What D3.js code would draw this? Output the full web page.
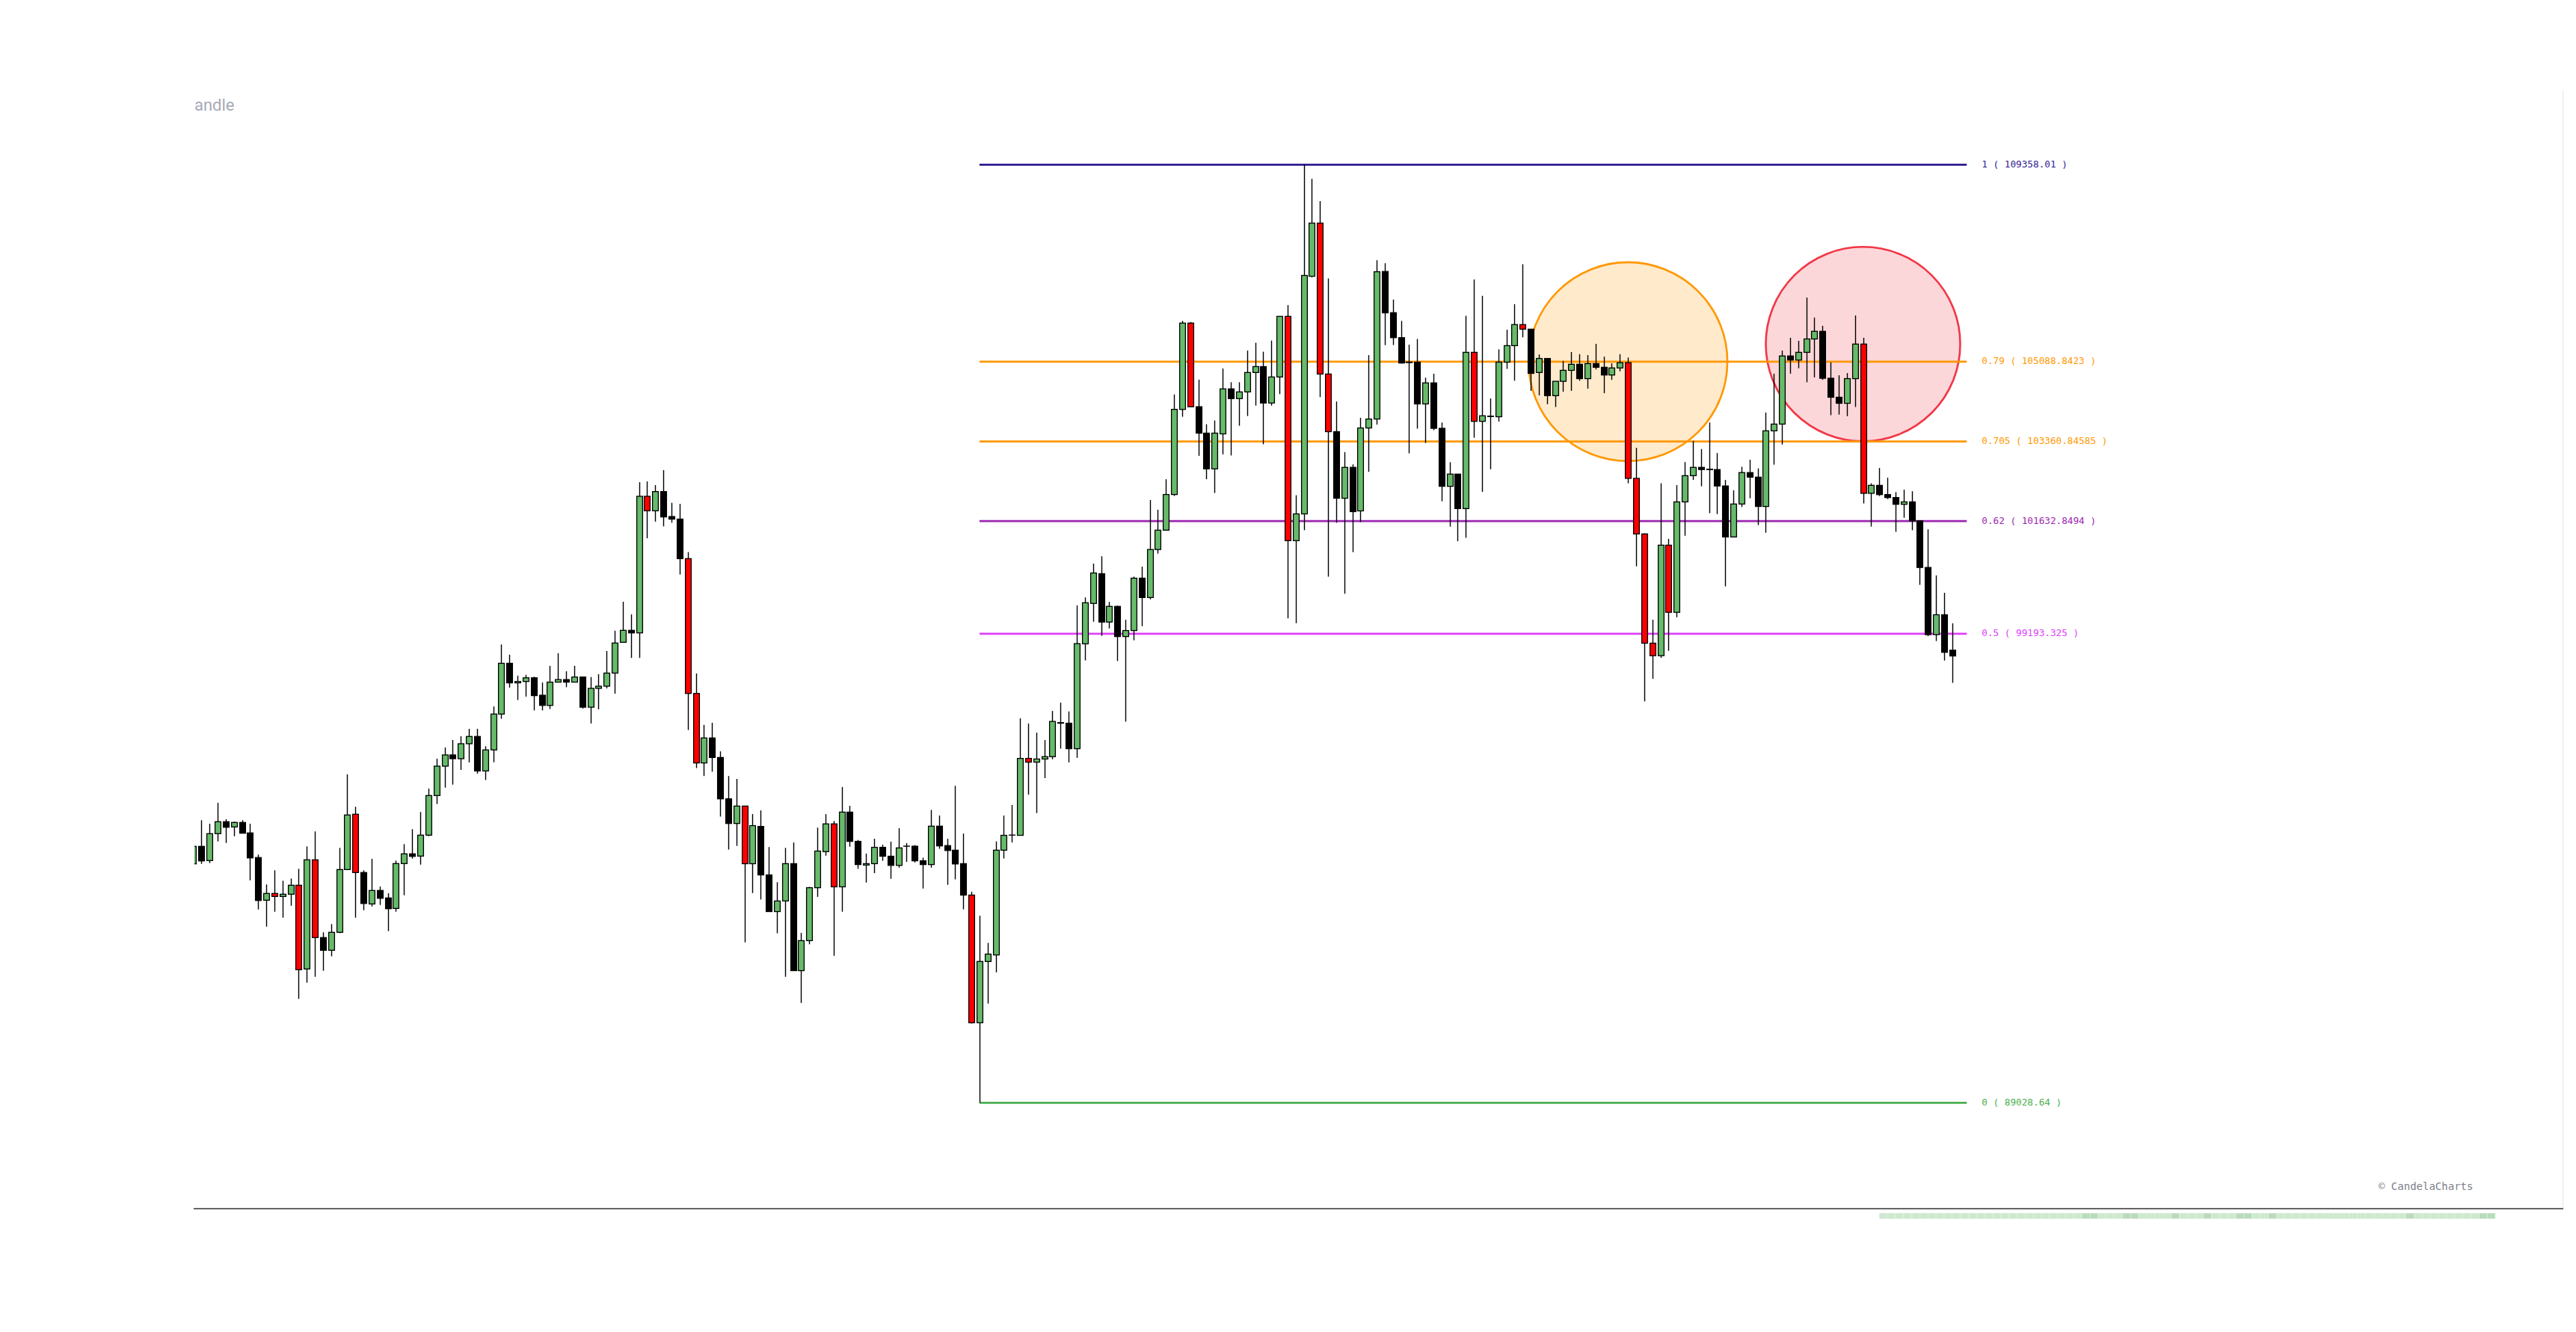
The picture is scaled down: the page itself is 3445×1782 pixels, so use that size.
<!DOCTYPE html>
<html><head><meta charset="utf-8">
<script src="https://cdn.jsdelivr.net/npm/d3@7"></script>
<style>html,body{margin:0;padding:0;background:#fff;} svg{display:block;}</style>
</head><body>
<svg id="chart" width="3445" height="1782"></svg>
<script>
// ---- DATA (4H candles, price in USD) ----
const open = [94206,94585,94277,94860,95119,95006,95103,94876,94342,93418,93564,93499,93548,93742,91928,94293,92608,92333,92722,94082,95281,94018,93337,93629,93467,93240,94212,94423,94374,94828,95686,96323,96566,96485,96809,96966,96219,96675,97452,98552,98128,98158,98238,97860,97640,98144,98199,98144,98254,97601,98009,98056,98340,99007,99266,99211,102171,101857,102273,101732,101677,100820,97899,96393,96934,96511,95615,95081,95458,94209,95017,93966,93172,93402,94210,91892,92542,93689,94470,95072,93708,95327,94693,94180,94210,94564,94371,94173,94588,94588,94272,94191,95022,94601,94502,94210,93529,90763,92090,92232,94502,94829,94824,96491,96410,96478,96529,97266,97254,96702,98975,99850,100494,99446,99785,99132,99262,100397,99978,101018,101437,102210,104055,105925,104112,103540,102766,103524,104499,104289,104434,104854,104982,104193,104757,106070,101210,101790,106940,108092,104821,103572,102129,102798,101855,103652,103846,107043,106150,105609,105079,105079,104173,104629,103644,102388,102652,101905,105291,103796,103908,103895,105079,105436,105892,105793,104854,105158,104352,104663,104901,105032,104721,105047,104967,104800,104953,105066,102560,101356,98988,98717,101112,99657,102050,102618,102798,102758,102750,102395,101290,102004,102685,102586,101951,103590,103736,105212,105124,105291,105581,105746,104729,104318,104187,104721,105470,102236,102408,102208,102144,101998,102050,101640,100629,99174,99604,98836];
const high = [94703,95152,95076,95529,95173,95119,95152,95076,94407,93759,94066,93840,93888,94099,94585,94909,92722,92900,94552,96145,95443,94066,94314,93715,93569,94277,94633,94957,95330,95837,96485,96728,96890,96971,97133,97133,96754,97617,98960,98740,98285,98301,98260,98136,98497,98771,98379,98497,98254,98254,98316,98818,99258,99887,99612,102477,102494,102414,102737,102030,102006,100963,98332,97217,97264,96644,96109,96048,95458,95285,95364,94570,93809,94552,94669,92710,93708,94991,95283,95134,95871,95463,94724,94428,94750,94619,94687,94978,94656,94612,94340,95375,95252,94750,95897,94862,93603,93081,92493,94693,95252,95481,97360,97248,97050,96888,97520,97700,97509,99808,99979,100712,100872,99882,99801,99495,100430,100647,102090,101880,102541,104378,105973,105949,104700,103733,103814,104941,104643,104643,105329,105499,105304,105546,106070,106312,102194,109358.01,109051,108569,106892,104225,103129,102863,103871,105231,107287,107222,106435,105972,105457,105581,104742,104828,103770,102910,102652,106083,106871,106514,104292,105356,105781,106335,107201,105793,105244,105158,104663,105105,105298,105251,105231,105476,105197,105053,105251,105178,103221,101369,99498,102453,101249,102414,102913,103373,103195,103770,103108,102526,102301,102811,102963,102777,103987,104828,105330,105607,105542,106480,106045,105866,105073,104794,104841,106090,105607,102453,102784,102573,102262,102315,102281,101640,101455,100457,100080,99419];
const low = [94168,94206,94222,94692,94659,94805,94870,93849,93218,92845,93169,93039,93298,91280,91630,91759,91889,92203,92705,94082,93039,93201,93282,93315,92748,93169,93525,94319,94189,94805,95502,95858,95923,96242,96404,96161,96023,96407,97350,98026,97758,97830,97531,97531,97562,98144,98034,98144,97570,97248,97554,98009,97893,99007,98669,98669,101261,101622,101520,101598,100475,97107,96282,96109,96203,95230,94515,94595,92505,93574,93433,93172,92702,91759,91892,91191,92463,93491,94384,92213,93169,94577,94099,93801,94005,94272,93882,94123,94248,94235,93671,94123,94533,93752,93869,93219,90744,89028.64,91178,91855,94322,94669,94824,95704,95307,96064,96474,96702,96404,96504,98615,99454,99148,99309,98601,97287,99051,99357,99937,100929,101437,102178,103895,104112,103048,102541,102243,103080,103056,103700,103911,104136,103299,104136,104386,99527,99422,101437,106916,104321,100430,101598,100059,100961,101614,102701,103725,105447,105450,105047,103101,103637,103326,103605,102064,101515,101198,101270,103440,102268,102758,103790,104933,104676,105615,104457,104358,104167,104107,104438,104457,104676,104504,104920,104405,104695,104880,102453,100655,97726,98215,98670,98823,99550,101316,102526,102388,101805,101786,100219,101290,101938,102129,101547,101382,102857,103294,104828,104946,104643,104749,104695,103929,103942,103908,104107,102017,101515,102176,102110,101402,101706,101436,100252,99140,99035,98612,98129];
const close = [94585,94270,94860,95119,94999,95103,94870,94335,93412,93564,93499,93548,93742,91912,94293,92608,92333,92722,94082,95265,94018,93347,93629,93460,93234,94212,94423,94368,94828,95686,96323,96566,96485,96809,96966,96219,96675,97452,98552,98128,98158,98238,97852,97640,98144,98199,98144,98254,97601,98009,98056,98340,98991,99266,99211,102171,101857,102273,101724,101677,100820,97899,96393,96934,96511,95615,95081,95458,94209,95034,93966,93172,93401,94210,91892,92542,93689,94483,95072,93708,95327,94693,94191,94210,94564,94371,94173,94551,94590,94272,94191,95022,94595,94496,94204,93529,90763,92090,92250,94502,94824,94830,96491,96410,96478,96529,97292,97254,96702,98978,99864,100509,99446,99785,99132,99262,100397,99978,101018,101437,102210,104055,105925,104112,103540,102766,103540,104499,104289,104434,104854,104982,104193,104757,106070,101210,101790,106957,108092,104821,103572,102129,102798,101839,103652,103846,107038,106147,105609,105060,105070,104173,104629,103644,102388,102652,101905,105291,103796,103916,103900,105079,105436,105892,105793,104835,105158,104352,104663,104901,105032,104721,105047,104967,104800,104953,105066,102560,101356,98988,98717,101112,99657,102050,102618,102798,102751,102750,102395,101290,102004,102685,102586,101951,103590,103736,105212,105124,105291,105581,105746,104729,104318,104187,104721,105470,102236,102408,102208,102144,101998,102050,101640,100629,99174,99604,98790,98711];
// candles flagged by the bearish signal (drawn red)
const bearishSignals = [10,13,15,20,56,61,62,68,79,96,103,123,135,139,140,158,164,177,178,179,180,182,206];

// Fibonacci retracement
const fibLow = 89028.64, fibHigh = 109358.01;
const fibLevels = [1, 0.79, 0.705, 0.62, 0.5, 0];
const fibStartIndex = 97, fibEndIndex = 218.8;

// highlighted zones
const zoneIndex = [177, 206];
const zonePrice = [fibLow + 0.79 * (fibHigh - fibLow), 105470];

// timeline strip shading (relative intensity per bar)
const stripStart = 208.5;
const stripValues = [1,1,1,1,1,1,1,1,1,1,1,1,1,1,1,1,1,1,1,1,1,1,1,1,1,2,2,1,1,1,2,2,1,1,1,1,2,1,1,1,2,1,1,1,2,2,1,1,2,1,1,1,1,1,1,1,1,1,1,1,1,1,1,1,1,2,1,1,1,1,1,1,1,1,2,2];

// ---- STYLE ----
const fibColor = {"1":"#311b92","0.79":"#ff9800","0.705":"#ff9800","0.62":"#9c27b0","0.5":"#e040fb","0":"#4caf50"};
const zoneStyle = [{stroke:"#ff9800", fill:"rgba(255,152,0,0.2)", r:133},{stroke:"#f23645", fill:"rgba(242,54,69,0.2)", r:130}];
const GREEN = "#66bb6a", RED = "#ff0000", BLACK = "#000000";

const svg = d3.select('#chart');
const plot = {left: 260, right: 3427, top: 121, bottom: 1617};
const n = open.length;
const x = d3.scaleLinear().domain([0, n - 1]).range([258.46, 258.46 + 10.84 * (n - 1)]);
const y = d3.scaleLinear().domain([fibLow, fibHigh]).range([1475.3, 220.3]);
const step = x(1) - x(0);
const bodyW = 7.8;

svg.append('rect').attr('width', 3445).attr('height', 1782).attr('fill', '#fff');

const defs = svg.append('defs');
defs.append('clipPath').attr('id', 'clip').append('rect')
  .attr('x', plot.left).attr('y', 0).attr('width', plot.right - plot.left).attr('height', plot.bottom);

// right border & bottom axis
svg.append('line').attr('x1', plot.right + 0.5).attr('x2', plot.right + 0.5).attr('y1', plot.top).attr('y2', plot.bottom)
  .attr('stroke', '#eef0f4').attr('stroke-width', 2);
svg.append('line').attr('x1', plot.left - 1).attr('x2', plot.right + 1).attr('y1', plot.bottom).attr('y2', plot.bottom)
  .attr('stroke', '#333').attr('stroke-width', 1.5);

// title fragment
svg.append('text').attr('x', plot.left).attr('y', 148).text('andle')
  .attr('font-family', 'Roboto, "Noto Sans", sans-serif').attr('font-size', 22).attr('fill', '#a6a9b8');

const g = svg.append('g').attr('clip-path', 'url(#clip)');

// zones
g.selectAll('circle.zone').data(zoneIndex).join('circle')
  .attr('class', 'zone')
  .attr('cx', d => x(d)).attr('cy', (d, k) => y(zonePrice[k]))
  .attr('r', (d, k) => zoneStyle[k].r)
  .attr('fill', (d, k) => zoneStyle[k].fill)
  .attr('stroke', (d, k) => zoneStyle[k].stroke).attr('stroke-width', 2.6);

// fib lines
const fibPrice = l => fibLow + l * (fibHigh - fibLow);
g.selectAll('line.fib').data(fibLevels).join('line')
  .attr('class', 'fib')
  .attr('x1', x(fibStartIndex)).attr('x2', x(fibEndIndex))
  .attr('y1', d => y(fibPrice(d))).attr('y2', d => y(fibPrice(d)))
  .attr('stroke', d => fibColor[String(d)]).attr('stroke-width', 2.7);

svg.selectAll('text.fib').data(fibLevels).join('text')
  .attr('class', 'fib')
  .attr('x', x(fibEndIndex) + 20).attr('y', d => y(fibPrice(d)))
  .attr('dominant-baseline', 'middle')
  .attr('font-family', '"DejaVu Sans Mono", monospace').attr('font-size', 12.7)
  .attr('fill', d => fibColor[String(d)])
  .text(d => `${d} ( ${parseFloat(fibPrice(d).toFixed(6))} )`);

// candles
const idx = d3.range(n);
const sig = new Set(bearishSignals);
const colorOf = i => sig.has(i) ? RED : (close[i] >= open[i] ? GREEN : BLACK);
g.selectAll('line.wick').data(idx).join('line')
  .attr('class', 'wick')
  .attr('x1', i => Math.round(x(i)) + 0.5).attr('x2', i => Math.round(x(i)) + 0.5)
  .attr('y1', i => y(high[i])).attr('y2', i => y(low[i]))
  .attr('stroke', '#000').attr('stroke-width', 1.4);
g.selectAll('rect.body').data(idx).join('rect')
  .attr('class', 'body')
  .attr('x', i => Math.round(x(i)) + 0.5 - bodyW / 2)
  .attr('y', i => y(Math.max(open[i], close[i])))
  .attr('width', bodyW)
  .attr('height', i => Math.abs(y(open[i]) - y(close[i])))
  .attr('fill', colorOf)
  .attr('stroke', '#000').attr('stroke-width', 1.3);

// watermark
svg.append('text').attr('x', 3181).attr('y', 1588).attr('dominant-baseline', 'middle')
  .attr('font-family', '"DejaVu Sans Mono", monospace').attr('font-size', 14).attr('fill', '#7c7f8c')
  .text('© CandelaCharts');

// timeline strip
const stripColor = ['#dcefdc', '#cfe8d0', '#b9dcbb'];
svg.selectAll('rect.strip').data(stripValues).join('rect')
  .attr('class', 'strip')
  .attr('x', (d, k) => x(stripStart + k) - step / 2)
  .attr('y', 1623).attr('width', step).attr('height', 7.5)
  .attr('fill', d => stripColor[d])
  .attr('stroke', '#e8f3e8').attr('stroke-width', 0.5);
</script>
</body></html>
